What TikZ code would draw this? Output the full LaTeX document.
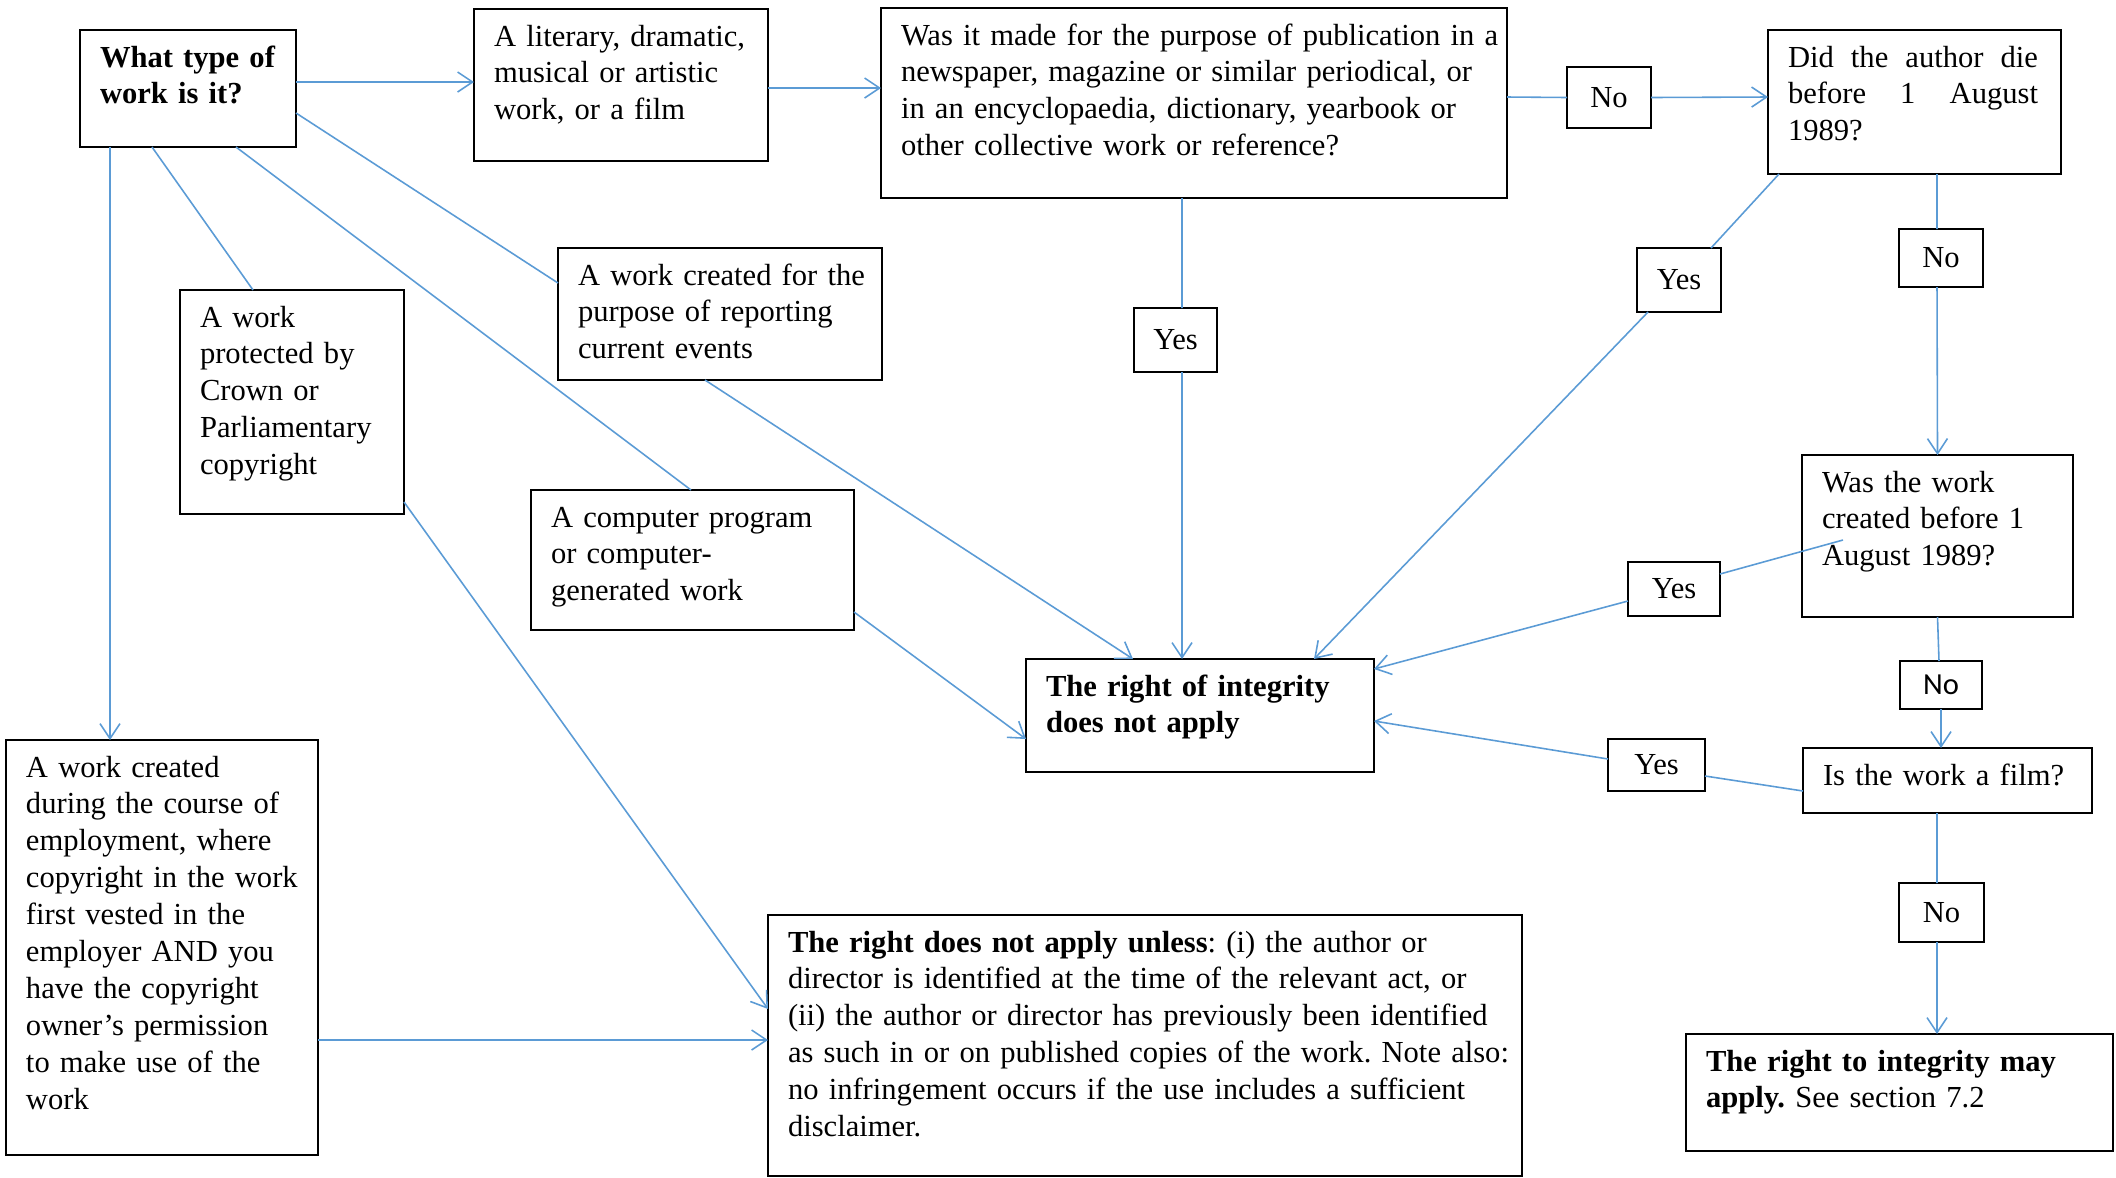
\documentclass[tikz,border=0pt]{standalone}
\usepackage{fontspec}
\setmainfont{Liberation Serif}
\newfontfamily\calfont{Carlito}
\usepackage{tikz}
\usetikzlibrary{arrows.meta}
\definecolor{link}{HTML}{5B9BD5}
\frenchspacing

\begin{document}
\begin{tikzpicture}[font=\fontsize{8.7}{10.5}\selectfont,
  box/.style={draw,line width=0.6pt,anchor=north west,align=left,inner xsep=2mm,inner ysep=1mm,text height=2.7mm,outer sep=0pt,
    execute at begin node={\rightskip=0pt plus 1fil minus 6mm\relax}},
  tag/.style={draw,line width=0.6pt,inner sep=0pt,outer sep=0pt},
  ln/.style={draw=link,line width=0.45pt},
  ar/.style={ln,-{Straight Barb[length=1.5mm,width=2mm]}},
]
\useasboundingbox (0,0) rectangle (21.16,-11.77);

\node[box,text width=1.76cm,text depth=7mm] at (0.80,-0.30) (q) {\bfseries What type of\\work is it?};
\node[box,text width=2.54cm,text depth=10.5mm] at (4.74,-0.09) (lit) {A literary, dramatic,\\musical or artistic\\work, or a film};
\node[box,text width=5.86cm,text depth=14.3mm] at (8.81,-0.08) (pub)
  {Was it made for the purpose of publication in a\\newspaper, magazine or similar periodical, or\\in an encyclopaedia, dictionary, yearbook or\\other collective work or reference?};
\node[box,text width=2.53cm,text depth=9.7mm] at (17.68,-0.30) (die)
  {\leavevmode\hbox to 2.50cm{Did\hfill the\hfill author\hfill die}\\\leavevmode\hbox to 2.50cm{before\hfill 1\hfill August}\\1989?};
\node[box,text width=2.31cm,text depth=11.5mm] at (18.02,-4.55) (created) {Was the work\\created before 1\\August 1989?};
\node[box,text width=2.49cm,text depth=1.8mm] at (18.03,-7.48) (film) {Is the work a film?};
\node[box,text width=3.87cm,text depth=7mm] at (16.86,-10.34) (may) {\textbf{The right to integrity may}\\\textbf{apply.} See section 7.2};
\node[box,text width=3.08cm,text depth=6.6mm] at (10.26,-6.59) (na) {\bfseries The right of integrity\\does not apply};
\node[box,text width=7.14cm,text depth=21.4mm] at (7.68,-9.15) (unless)
  {\textbf{The right does not apply unless}: (i) the author or\\director is identified at the time of the relevant act, or\\(ii) the author or director has previously been identified\\as such in or on published copies of the work. Note also:\\no infringement occurs if the use includes a sufficient\\disclaimer.};
\node[box,text width=2.72cm,text depth=36.8mm] at (0.06,-7.40) (emp)
  {A work created\\during the course of\\employment, where\\copyright in the work\\first vested in the\\employer AND you\\have the copyright\\owner's permission\\to make use of the\\work};
\node[box,text width=1.84cm,text depth=17.7mm] at (1.80,-2.90) (crown) {A work\\protected by\\Crown or\\Parliamentary\\copyright};
\node[box,text width=2.84cm,text depth=8.5mm] at (5.58,-2.48) (cur) {A work created for the\\purpose of reporting\\current events};
\node[box,text width=2.83cm,text depth=9.3mm] at (5.31,-4.90) (comp) {A computer program\\or computer-\\generated work};

\node[tag,minimum width=8.4mm,minimum height=6.1mm] at (16.09,-0.975) (noA) {No};
\node[tag,minimum width=8.4mm,minimum height=6.4mm] at (16.79,-2.80) (yesA) {Yes};
\node[tag,minimum width=8.4mm,minimum height=5.8mm] at (19.41,-2.58) (noB) {No};
\node[tag,minimum width=8.3mm,minimum height=6.4mm] at (11.755,-3.40) (yesB) {Yes};
\node[tag,minimum width=9.2mm,minimum height=5.4mm] at (16.74,-5.89) (yesC) {Yes};
\node[tag,minimum width=8.2mm,minimum height=4.8mm] at (19.41,-6.85) (noC) {\calfont No};
\node[tag,minimum width=9.7mm,minimum height=5.2mm] at (16.565,-7.65) (yesD) {Yes};
\node[tag,minimum width=8.5mm,minimum height=5.9mm] at (19.415,-9.125) (noD) {No};

\draw[ar] ([yshift=0.065cm]q.east) -- ([yshift=0.03cm]lit.west);
\draw[ar] ([yshift=-0.03cm]lit.east) -- ([yshift=0.15cm]pub.west);
\draw[ln] ([yshift=0.06cm]pub.east) -- (noA.west);
\draw[ar] (noA.east) -- ([yshift=0.05cm]die.west);
\draw[ln] ([xshift=0.11cm]die.south west) -- ([xshift=-0.1cm]yesA.north east);
\draw[ar] ([xshift=0.11cm]yesA.south west) -- ([xshift=-0.6cm]na.north east);
\draw[ln] ([xshift=0.225cm]die.south) -- ([xshift=-0.04cm]noB.north);
\draw[ar] ([xshift=-0.04cm]noB.south) -- (created.north);
\draw[ln] ([xshift=-0.12cm]pub.south) -- ([xshift=0.065cm]yesB.north);
\draw[ar] ([xshift=0.065cm]yesB.south) -- ([xshift=-0.18cm]na.north);
\draw[ln] ([xshift=0.41cm,yshift=-0.04cm]created.west) -- ([yshift=0.15cm]yesC.east);
\draw[ar] ([yshift=-0.12cm]yesC.west) -- ([yshift=0.465cm]na.east);
\draw[ln] (created.south) -- ([xshift=-0.02cm]noC.north);
\draw[ar] (noC.south) -- ([xshift=-0.065cm]film.north);
\draw[ln] ([yshift=-0.105cm]film.west) -- ([yshift=-0.11cm]yesD.east);
\draw[ar] ([yshift=0.06cm]yesD.west) -- ([yshift=-0.055cm]na.east);
\draw[ln] ([xshift=-0.105cm]film.south) -- ([xshift=-0.045cm]noD.north);
\draw[ar] ([xshift=-0.045cm]noD.south) -- ([xshift=0.375cm]may.north);
\draw[ar] ([xshift=0.30cm]q.south west) -- ([xshift=1.04cm]emp.north west);
\draw[ln] ([xshift=0.72cm]q.south west) -- ([xshift=0.73cm]crown.north west);
\draw[ar] ([yshift=0.12cm]crown.south east) -- ([yshift=-0.94cm]unless.north west);
\draw[ln] ([xshift=1.56cm]q.south west) -- ([xshift=1.60cm]comp.north west);
\draw[ar] ([yshift=0.18cm]comp.south east) -- ([yshift=0.33cm]na.south west);
\draw[ln] ([yshift=-0.245cm]q.east) -- ([yshift=0.31cm]cur.west);
\draw[ar] ([xshift=1.47cm]cur.south west) -- ([xshift=1.07cm]na.north west);
\draw[ar] ([yshift=-0.925cm]emp.east) -- ([yshift=0.055cm]unless.west);
\end{tikzpicture}
\end{document}
